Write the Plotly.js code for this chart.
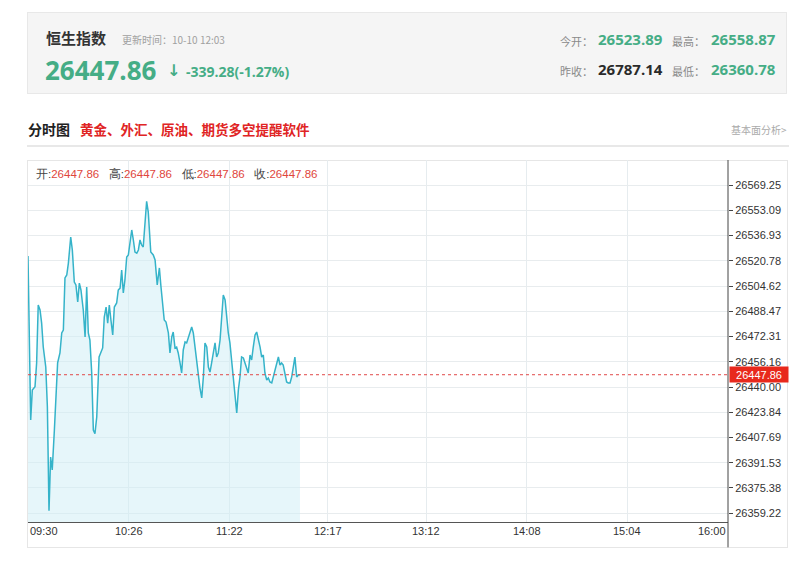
<!DOCTYPE html>
<html>
<head>
<meta charset="utf-8">
<script src="https://cdn.plot.ly/plotly-3.0.1.min.js"></script>
<style>
  html, body { margin:0; padding:0; background:#fff; width:800px; height:565px; overflow:hidden; }
  body { position:relative; font-family:"Noto Sans CJK SC","Liberation Sans",Arial,sans-serif; }
  .abs { position:absolute; white-space:nowrap; }
  #hdr { left:27px; top:12px; width:760px; height:82px; background:#f5f5f5; border:1px solid #e8e8e8; box-sizing:border-box; }
  #box { left:27px; top:160px; width:761px; height:388px; border:1px solid #e6e6e6; box-sizing:border-box; }
  #plot { position:absolute; left:0; top:0; width:800px; height:565px; }
  .g { color:#45ad86; font-weight:bold; font-family:"Open Sans","Liberation Sans",Arial,sans-serif; }
  .lbl { color:#8a8a8a; font-size:11px; }
</style>
</head>
<body>
<div id="hdr" class="abs"></div>
<div class="abs" style="left:46px;top:27px;font-size:15px;font-weight:bold;color:#333;">恒生指数</div>
<div class="abs" style="left:122px;top:32px;font-size:10px;color:#a0a0a0;">更新时间：10-10 12:03</div>
<div class="abs g" style="left:45px;top:52px;font-size:26px;line-height:36px;">26447.86</div>
<div class="abs g" style="left:167px;top:60px;font-size:16px;line-height:22px;font-family:'DejaVu Sans',sans-serif;">↓</div>
<div class="abs g" style="left:186px;top:62px;font-size:14px;line-height:20px;">-339.28(-1.27%)</div>

<div class="abs lbl" style="left:560px;top:33px;">今开：</div>
<div class="abs g" style="left:598px;top:28px;font-size:15px;line-height:22px;">26523.89</div>
<div class="abs lbl" style="left:672px;top:33px;">最高：</div>
<div class="abs g" style="left:711px;top:28px;font-size:15px;line-height:22px;">26558.87</div>
<div class="abs lbl" style="left:560px;top:63px;">昨收：</div>
<div class="abs g" style="left:598px;top:58px;font-size:15px;line-height:22px;color:#2a2a2a;">26787.14</div>
<div class="abs lbl" style="left:672px;top:63px;">最低：</div>
<div class="abs g" style="left:711px;top:58px;font-size:15px;line-height:22px;">26360.78</div>

<div class="abs" style="left:28px;top:119px;font-size:14px;font-weight:bold;color:#222;">分时图</div>
<div class="abs" style="left:80px;top:119px;font-size:13.5px;font-weight:bold;color:#e02424;">黄金、外汇、原油、期货多空提醒软件</div>
<div class="abs" style="left:731px;top:122px;font-size:10px;color:#aaa;">基本面分析&gt;</div>
<div class="abs" style="left:27px;top:145px;width:762px;height:2px;background:#e8e8e8;"></div>

<div id="box" class="abs"></div>
<div id="plot"></div>

<script>
// ---- data ----
const minutes = [0,1.5,2.4,3.9,4.8,5.7,6.7,7.6,8.5,9.9,10.8,11.7,12.6,13.5,14.7,15.6,16.5,17.8,18.8,19.7,
  20.6,21.6,22.5,23.8,24.7,25.8,26.7,27.7,28.6,29.5,30.8,31.8,32.7,33.6,34.5,35.5,36.4,37.3,38.3,39.6,
  40.7,41.6,42.5,43.5,44.4,45.3,46.2,47.2,48.1,49.4,50.3,51.3,52.2,53.1,54.0,55.0,55.9,56.8,57.8,58.7,
  59.6,60.6,61.5,62.4,63.3,64.2,65.2,66.1,67.0,68.4,69.8,70.8,72.0,73.2,74.1,75.0,75.9,76.9,78.2,79.1,
  80.1,80.9,81.9,82.8,83.7,84.7,85.6,86.5,87.5,88.4,89.3,90.3,91.2,92.1,93.0,94.0,94.9,95.8,96.8,97.7,
  98.6,99.6,100.5,101.4,102.3,103.2,104.2,105.1,106.0,107.0,107.9,108.8,109.8,110.7,111.6,112.5,113.5,114.4,115.3,116.3,
  117.2,118.1,119.0,120.0,120.9,121.8,122.7,123.7,124.6,125.5,126.5,127.4,128.3,129.3,130.2,131.1,132.0,133.0,133.9,134.8,
  135.8,136.7,137.6,138.5,139.5,140.4,141.3,142.2,143.2,144.1,145.0,146.0,146.9,147.8,148.7,149.7,150.6,151.5];
const prices = [26523.89,26418.9,26438.1,26440.2,26455.4,26492.5,26489.3,26480.9,26465.6,26452.8,
  26427.2,26360.78,26395.2,26386.9,26412.5,26438.1,26455.4,26461.8,26474.6,26476.5,
  26509.8,26511.7,26519.3,26536.0,26527.7,26507.2,26505.3,26494.4,26506.5,26502.1,
  26489.3,26472.0,26504.0,26474.6,26470.1,26448.9,26412.5,26410.2,26420.8,26459.2,
  26461.8,26465.0,26484.8,26491.2,26480.9,26492.5,26482.9,26473.3,26491.2,26493.8,
  26502.1,26503.3,26514.9,26500.2,26508.5,26523.2,26524.5,26532.1,26540.5,26534.1,
  26526.4,26525.7,26527.7,26534.1,26530.9,26529.6,26544.9,26558.87,26551.97,26526.4,
  26524.5,26521.3,26505.3,26516.2,26504.0,26493.8,26482.9,26481.6,26474.6,26461.8,
  26472.0,26475.2,26465.0,26465.6,26461.8,26455.4,26449.0,26463.7,26468.8,26468.2,
  26472.0,26475.2,26478.4,26474.6,26465.0,26455.4,26446.4,26439.4,26433.0,26446.4,
  26468.2,26465.6,26452.8,26449.6,26455.4,26460.5,26468.2,26459.2,26461.8,26470.1,
  26484.8,26498.9,26495.7,26484.8,26474.6,26468.2,26455.4,26442.6,26431.7,26423.4,
  26438.1,26446.4,26459.2,26458.6,26455.4,26452.8,26449.0,26460.5,26457.3,26465.6,
  26473.3,26475.2,26471.4,26465.6,26459.2,26460.5,26449.0,26444.5,26445.8,26443.2,
  26442.6,26446.4,26450.9,26455.4,26459.2,26454.1,26455.4,26454.1,26449.0,26443.2,
  26442.6,26442.6,26446.4,26454.1,26459.2,26446.4,26447.7,26447.86];
const xTickLabels = ['09:30','10:26','11:22','12:17','13:12','14:08','15:04','16:00'];
const yTickValues = [26569.25,26553.09,26536.93,26520.78,26504.62,26488.47,26472.31,26456.16,
  26440.00,26423.84,26407.69,26391.53,26375.38,26359.22];
const lastPrice = 26447.86;
const ohlc = {open:'26447.86', high:'26447.86', low:'26447.86', close:'26447.86'};

// ---- build ----
function toMin(s){ const [h,m]=s.split(':').map(Number); return (h*60+m)-(9*60+30); }
const xTickVals = xTickLabels.map(toMin);

const trace = {
  x: minutes, y: prices, type:'scatter', mode:'lines',
  line:{color:'#35b3c9', width:1.5},
  fill:'tozeroy', fillcolor:'rgba(205,237,246,0.5)',
  hoverinfo:'skip'
};

const annotations = xTickLabels.map((t,i)=>({
  x: xTickVals[i], xref:'x', y:0, yref:'paper', yanchor:'top', yshift:-1,
  xanchor: i===0 ? 'left' : (i===xTickLabels.length-1 ? 'right' : 'center'),
  text:t, showarrow:false, font:{family:'Liberation Sans, Arial, sans-serif', size:11, color:'#333'}
}));
const red = '#e0463c';
annotations.push({
  x:0, xref:'paper', y:1, yref:'paper', xanchor:'left', yanchor:'top', xshift:6, yshift:-5,
  showarrow:false, align:'left',
  font:{family:'Liberation Sans, Arial, sans-serif', size:11.5, color:'#444'},
  text:'开:<span style="color:'+red+'">'+ohlc.open+'</span>   高:<span style="color:'+red+'">'+ohlc.high+
       '</span>   低:<span style="color:'+red+'">'+ohlc.low+'</span>   收:<span style="color:'+red+'">'+ohlc.close+'</span>'
});
annotations.push({
  x:1, xref:'paper', y:lastPrice, yref:'y', xanchor:'left', yanchor:'middle', xshift:1,
  showarrow:false, text:lastPrice.toFixed(2), bgcolor:'#e8291c', borderpad:1, width:56, height:13,
  font:{family:'Liberation Sans, Arial, sans-serif', size:11, color:'#fff'}
});

const layout = {
  width:800, height:565,
  margin:{l:28, r:72, t:160, b:43},
  paper_bgcolor:'rgba(0,0,0,0)', plot_bgcolor:'rgba(0,0,0,0)',
  showlegend:false,
  xaxis:{range:[0,390], tickvals:xTickVals, showticklabels:false, ticks:'',
    showgrid:true, gridcolor:'#e6ecef', gridwidth:1, zeroline:false,
    showline:true, linecolor:'#555', linewidth:1, fixedrange:true},
  yaxis:{side:'right', range:[26353.6, 26585.3], tickvals:yTickValues,
    ticktext:yTickValues.map(v=>v.toFixed(2)), ticks:'outside', ticklen:4, tickcolor:'#444',
    tickfont:{family:'Liberation Sans, Arial, sans-serif', size:11, color:'#333'},
    showgrid:true, gridcolor:'#e8ecee', zeroline:false, showline:false, fixedrange:true},
  shapes:[
    {type:'line', xref:'paper', yref:'y', x0:0, x1:1, y0:lastPrice, y1:lastPrice,
     line:{color:'#e04848', width:1, dash:'dot'}},
    {type:'line', xref:'paper', yref:'paper', x0:1, x1:1, y0:-0.07, y1:1,
     line:{color:'#444', width:1}}
  ],
  annotations:annotations
};

Plotly.newPlot('plot', [trace], layout, {staticPlot:true, displayModeBar:false});
</script>
</body>
</html>
